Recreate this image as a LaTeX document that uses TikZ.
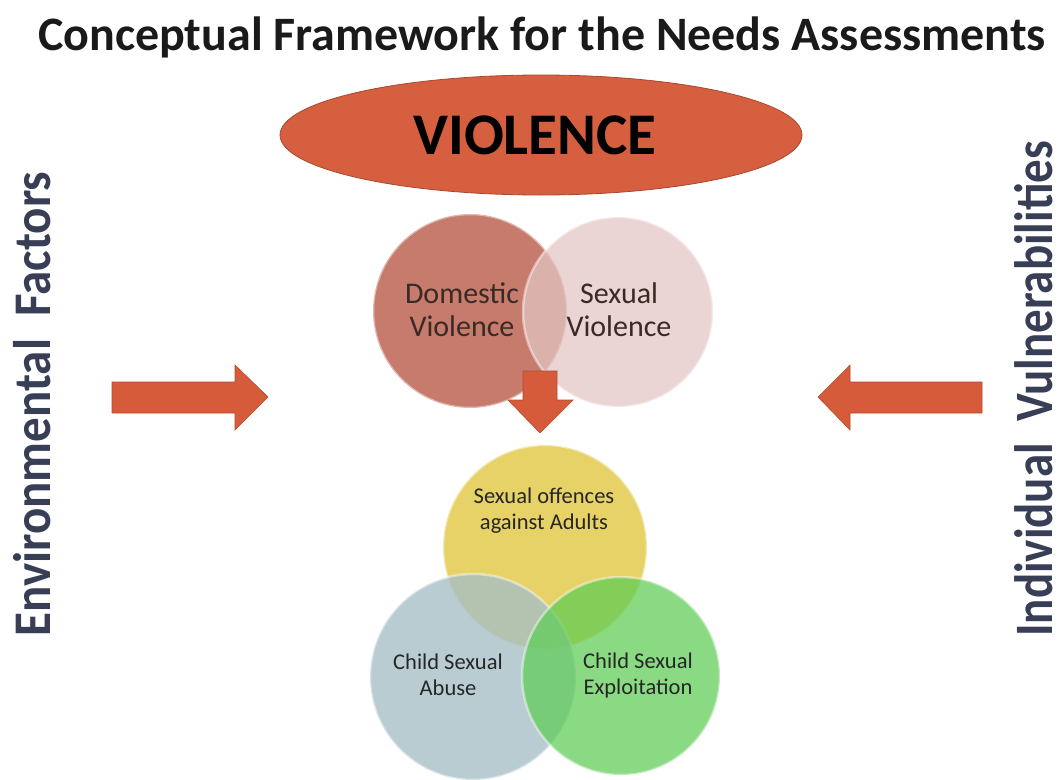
\documentclass[tikz,border=0pt]{standalone}
\usepackage{fontspec}
\setmainfont{Carlito}
\usetikzlibrary{shapes.geometric}
\definecolor{titlecol}{HTML}{1A1A1A}
\definecolor{sidecol}{HTML}{383E56}
\definecolor{ellfill}{HTML}{D65F40}
\definecolor{ellborder}{HTML}{A8482F}
\definecolor{arrowfill}{HTML}{D55B3B}
\definecolor{arrowborder}{HTML}{B44A30}
\definecolor{domcol}{HTML}{C77B6D}
\definecolor{sexcol}{HTML}{E3C6C4}
\definecolor{vtext}{HTML}{3A2A26}
\definecolor{yelcol}{HTML}{E6D266}
\definecolor{bluecol}{HTML}{A6BEC6}
\definecolor{grncol}{HTML}{5ECC55}
\tikzset{
  vcircle/.style={circle, inner sep=0pt, minimum size=#1},
  rim/.style={draw=white, draw opacity=0.45, line width=2.5pt},
  blockarrow/.style={fill=arrowfill, draw=arrowborder, line width=0.6pt, line join=miter},
  sidelabel/.style={rotate=90, inner sep=0pt, text=sidecol, font=\bfseries\fontsize{#1}{50}\selectfont},
  vlabel/.style={align=center, text=vtext, font=\fontsize{30}{33}\selectfont},
  slabel/.style={align=center, text=black!85, font=\fontsize{22.5}{26}\selectfont}
}
\begin{document}
\begin{tikzpicture}[x=1pt,y=-1pt]
\useasboundingbox (0,0) rectangle (1062,779);
\fill[white] (0,0) rectangle (1062,779);

% title
\node[font=\bfseries\fontsize{48}{52}\selectfont, text=titlecol] (title) at (542,37) {Conceptual Framework for the Needs Assessments};

% violence ellipse
\node[ellipse, draw=ellborder, line width=0.8pt, fill=ellfill, minimum width=522pt, minimum height=120pt, inner sep=0pt] (viol) at (541,135) {};
\node[font=\bfseries\fontsize{59}{60}\selectfont, text=black] (violtext) at (535,135) {VIOLENCE};

% upper Venn
\node[vcircle=194pt, fill=domcol, rim] (dom) at (470,311) {};
\node[vcircle=190pt, fill=sexcol, fill opacity=0.72, rim] (sex) at (618,312) {};
\node[vlabel] (domtext) at (462,310) {Domestic\\Violence};
\node[vlabel] (sextext) at (619,310) {Sexual\\Violence};

% down arrow
\filldraw[blockarrow] (523,371) -- (557,371) -- (557,400) -- (573,400) -- (540,433) -- (508,400) -- (523,400) -- cycle;

% lower Venn
\node[vcircle=204pt, fill=yelcol, rim] (adult) at (545,547) {};
\node[vcircle=206pt, fill=bluecol, fill opacity=0.78, rim] (csa) at (473,677) {};
\node[vcircle=198pt, fill=grncol, fill opacity=0.72, rim] (cse) at (621,676) {};
\node[slabel] (adulttext) at (544,511) {Sexual offences\\against Adults};
\node[slabel] (csatext) at (448,675) {Child Sexual\\Abuse};
\node[slabel] (csetext) at (638,675) {Child Sexual\\Exploitation};

% side arrows
\filldraw[blockarrow] (112,382) -- (235,382) -- (235,365) -- (268,397) -- (235,430) -- (235,413) -- (112,413) -- cycle;
\filldraw[blockarrow] (982,382) -- (850,382) -- (850,365) -- (818,397) -- (850,430) -- (850,413) -- (982,413) -- cycle;

% side labels
\node[sidelabel=49] (env) at (32,404) {\scalebox{1}[1.08]{Environmental\ \ Factors}};
\node[sidelabel=47] (ind) at (1034,389) {\scalebox{1}[1.15]{Individual\ \ Vulnerabilities}};
\end{tikzpicture}
\end{document}
